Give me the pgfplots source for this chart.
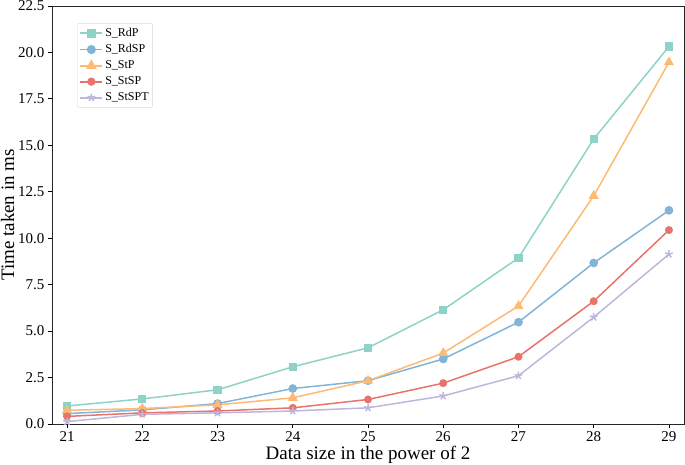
\documentclass[border=0pt]{standalone}
\usepackage{pgfplots}
\pgfplotsset{compat=1.18}
\usepackage{fontspec}
\setmainfont{Liberation Serif}
\definecolor{cA}{HTML}{8DD3C7}
\definecolor{cB}{HTML}{82B4D8}
\definecolor{cC}{HTML}{FDBA74}
\definecolor{cD}{HTML}{E8736B}
\definecolor{cE}{HTML}{BEB6DC}
\begin{document}
\begin{tikzpicture}
\path[use as bounding box] (-52pt,-40pt) rectangle (633pt,424pt);
\begin{axis}[
  at={(0,0)}, anchor=south west,
  scale only axis, width=632pt, height=418pt,
  xmin=20.8, xmax=29.2, ymin=0, ymax=22.5,
  xtick={21,...,29},
  ytick={0,2.5,...,22.5},
  yticklabel style={/pgf/number format/.cd, fixed, fixed zerofill, precision=1},
  /pgf/number format/assume math mode=true,
  tick label style={font=\fontsize{15}{17}\selectfont},
  xtick pos=bottom, ytick pos=left,
  tick align=outside, major tick length=4pt,
  every tick/.style={black, line width=0.8pt},
  axis line style={line width=0.9pt, black!85},
  xlabel={Data size in the power of 2},
  ylabel={Time taken in ms},
  label style={font=\fontsize{19}{21}\selectfont},
  xlabel style={yshift=2pt},
  ylabel style={yshift=-3pt},
  legend style={at={(0.04,0.959)}, anchor=north west, draw=black!15, rounded corners=2pt,
    font=\fontsize{12}{14}\selectfont, row sep=2.5pt, inner xsep=2pt, inner ysep=3pt},
  legend cell align=left,
  every axis plot/.append style={line width=1.5pt,
    legend image code/.code={\draw[mark repeat=2,mark phase=2,##1,line width=1.8pt] plot coordinates {(0pt,0pt) (11pt,0pt) (22pt,0pt)};}},
]
\addplot[color=cA, mark=square*, mark size=3.4pt, mark options={fill=cA, draw=cA}] coordinates {
(21,0.97) (22,1.35) (23,1.84) (24,3.08) (25,4.10) (26,6.15) (27,8.94) (28,15.34) (29,20.32)};
\addlegendentry{S\_RdP}
\addplot[color=cB, mark=*, mark size=3.6pt, mark options={fill=cB, draw=cB}] coordinates {
(21,0.56) (22,0.76) (23,1.10) (24,1.91) (25,2.33) (26,3.50) (27,5.48) (28,8.67) (29,11.50)};
\addlegendentry{S\_RdSP}
\addplot[color=cC, mark=triangle*, mark size=4.4pt, mark options={fill=cC, draw=cC}] coordinates {
(21,0.74) (22,0.83) (23,1.03) (24,1.41) (25,2.33) (26,3.82) (27,6.35) (28,12.28) (29,19.47)};
\addlegendentry{S\_StP}
\addplot[color=cD, mark=*, mark size=3.2pt, mark options={fill=cD, draw=cD}] coordinates {
(21,0.41) (22,0.60) (23,0.70) (24,0.87) (25,1.32) (26,2.20) (27,3.62) (28,6.61) (29,10.44)};
\addlegendentry{S\_StSP}
\addplot[color=cE, mark=star, mark size=4pt, mark options={draw=cE, line width=1.5pt}] coordinates {
(21,0.13) (22,0.52) (23,0.60) (24,0.70) (25,0.87) (26,1.51) (27,2.60) (28,5.75) (29,9.14)};
\addlegendentry{S\_StSPT}
\end{axis}
\end{tikzpicture}
\end{document}
